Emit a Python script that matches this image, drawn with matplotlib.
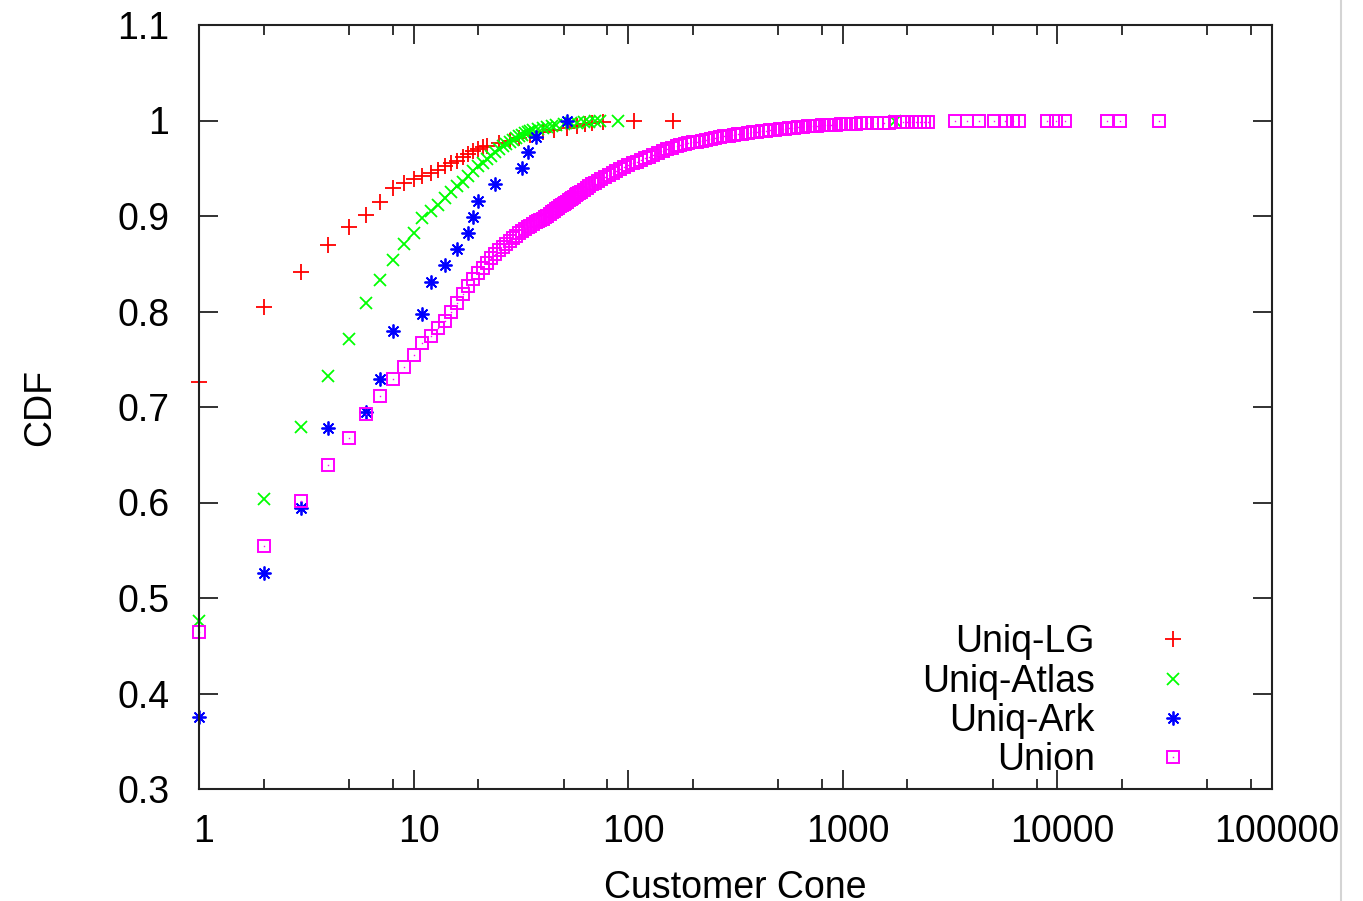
import matplotlib
matplotlib.use('Agg')
import matplotlib.pyplot as plt
from matplotlib.lines import Line2D
from matplotlib.legend_handler import HandlerTuple
import matplotlib.transforms as mtransforms

plt.rcParams['font.family'] = ['Liberation Sans', 'DejaVu Sans']

# ---------------- data ----------------
lg_x = [1, 2, 3, 4, 5, 6, 7, 8, 9, 10, 11, 12, 13, 14, 15, 16, 17, 18, 19, 20,
        21, 22, 25, 28, 31, 35, 40, 45, 52, 58, 63, 68, 76, 106, 161]
lg_y = [0.726, 0.805, 0.841, 0.870, 0.889, 0.901, 0.915, 0.929, 0.935, 0.939,
        0.942, 0.945, 0.948, 0.952, 0.956, 0.958, 0.962, 0.965, 0.968, 0.970,
        0.972, 0.973, 0.976, 0.979, 0.982, 0.985, 0.988, 0.990, 0.992, 0.994,
        0.996, 0.997, 0.998, 0.999, 1.000]

atlas_x = [1, 2, 3, 4, 5, 6, 7, 8, 9, 10, 11, 12, 13, 14, 15, 16, 17, 18, 19,
           20, 21, 22, 23, 24, 25, 26, 27, 28, 29, 30, 31, 32, 33, 34, 35, 36,
           38, 40, 42, 44, 46, 50, 54, 58, 62, 66, 70, 74, 90, 1760]
atlas_y = [0.476, 0.604, 0.679, 0.732, 0.771, 0.809, 0.833, 0.854, 0.871, 0.882,
           0.898, 0.905, 0.912, 0.919, 0.925, 0.931, 0.936, 0.942, 0.947, 0.952,
           0.956, 0.960, 0.963, 0.967, 0.970, 0.973, 0.975, 0.978, 0.980, 0.982,
           0.984, 0.985, 0.987, 0.988, 0.989, 0.990, 0.991, 0.992, 0.993, 0.994,
           0.995, 0.996, 0.997, 0.997, 0.998, 0.998, 0.999, 0.999, 0.9995, 1.000]

ark_x = [1, 2, 3, 4, 6, 7, 8, 11, 12, 14, 16, 18, 19, 20, 24, 32, 34, 37, 52]
ark_y = [0.375, 0.526, 0.594, 0.678, 0.695, 0.729, 0.780, 0.797, 0.831, 0.849,
         0.865, 0.882, 0.899, 0.916, 0.933, 0.950, 0.967, 0.983, 1.000]

union_x = [1, 2, 3, 4, 5, 6, 7, 8, 9, 10, 11, 12, 13, 14, 15, 16, 17, 18, 19,
           20, 21, 22, 23, 24, 25, 26, 27, 28, 29, 30, 31, 32, 33, 34, 35, 36, 37,
           38, 39, 40, 41, 42, 43, 44, 45, 46, 47, 48, 49, 50, 51, 52, 53, 54, 55,
           56, 57, 58, 59, 60, 62, 64, 66, 68, 70, 72, 75, 78, 81, 85, 88, 92, 96,
           100, 105, 110, 115, 120, 125, 130, 137, 145, 152, 160, 168, 175, 183,
           190, 200, 210, 220, 230, 242, 255, 267, 280, 295, 310, 325, 340, 360,
           380, 400, 420, 440, 460, 485, 510, 535, 560, 590, 620, 655, 690, 725,
           760, 800, 840, 885, 930, 980, 1030, 1090, 1150, 1220, 1300, 1370, 1450,
           1550, 1650, 1750, 1900, 2000, 2100, 2200, 2300, 2400, 2500,
           3350, 3800, 4300, 5050, 5700, 6200, 6600, 8900, 9800, 10800,
           17100, 19600, 29800]
union_y = [0.464, 0.554, 0.602, 0.639, 0.668, 0.693, 0.711, 0.729, 0.742, 0.754,
           0.767, 0.774, 0.783, 0.790, 0.799, 0.809, 0.818, 0.827, 0.834,
           0.840, 0.846, 0.851, 0.856, 0.860, 0.864, 0.868, 0.871, 0.874, 0.877,
           0.879, 0.882, 0.884, 0.886, 0.888, 0.890, 0.892, 0.894, 0.895, 0.896,
           0.897, 0.899, 0.900, 0.902, 0.904, 0.905, 0.907, 0.908, 0.910, 0.911,
           0.913, 0.914, 0.915, 0.917, 0.918, 0.919, 0.920, 0.922, 0.923, 0.924,
           0.925, 0.927, 0.929, 0.931, 0.933, 0.935, 0.937, 0.939, 0.941, 0.943,
           0.945, 0.947, 0.949, 0.951, 0.953, 0.955, 0.957, 0.959, 0.961, 0.962,
           0.964, 0.966, 0.968, 0.970, 0.971, 0.973, 0.974, 0.975, 0.976, 0.977,
           0.978, 0.979, 0.980, 0.981, 0.982, 0.983, 0.984, 0.984, 0.985, 0.986,
           0.986, 0.987, 0.988, 0.988, 0.989, 0.989, 0.990, 0.990, 0.991, 0.991,
           0.992, 0.992, 0.993, 0.993, 0.994, 0.994, 0.994, 0.995, 0.995, 0.995,
           0.995, 0.996, 0.996, 0.996, 0.996, 0.997, 0.997, 0.997, 0.997, 0.997,
           0.997, 0.998, 0.998, 0.998, 0.998, 0.998, 0.998, 0.998, 0.998,
           0.999, 0.999, 0.999, 0.999, 0.999, 0.999, 0.999, 0.9995, 0.9995, 0.9995,
           0.9997, 0.9997, 1.000]

series_labels = ['Uniq-LG', 'Uniq-Atlas', 'Uniq-Ark', 'Union']
x_major = [1, 10, 100, 1000, 10000, 100000]
x_major_labels = ['1', '10', '100', '1000', '10000', '100000']
x_minor = [m * d for d in [1, 10, 100, 1000, 10000] for m in (2, 5, 8)]
y_ticks = [0.3, 0.4, 0.5, 0.6, 0.7, 0.8, 0.9, 1.0, 1.1]
y_tick_labels = ['0.3', '0.4', '0.5', '0.6', '0.7', '0.8', '0.9', '1', '1.1']

# ---------------- figure ----------------
W, H = 1363, 901
fig = plt.figure(figsize=(W / 100, H / 100), dpi=100)
L, R, T, B = 199, 1272, 25, 789
ax = fig.add_axes([L / W, 1 - B / H, (R - L) / W, (B - T) / H])

FS = 27
RED, GREEN, BLUE, MAG = '#ff0000', '#00ff00', '#0000ff', '#ff00ff'
asterisk = (8, 2, 0)

kw = dict(linestyle='none', clip_on=False, zorder=2)
h_lg, = ax.plot(lg_x, lg_y, marker='+', color=RED, markersize=11, markeredgewidth=1.3, **kw)
h_at, = ax.plot(atlas_x, atlas_y, marker='x', color=GREEN, markersize=9, markeredgewidth=1.3, **kw)
h_ar, = ax.plot(ark_x, ark_y, marker=asterisk, color=BLUE, markersize=10, markeredgewidth=1.3, **kw)
h_un, = ax.plot(union_x, union_y, marker='s', markerfacecolor='none', markeredgecolor=MAG,
                markersize=8.5, markeredgewidth=1.4, **kw)
h_und, = ax.plot(union_x, union_y, marker='s', color=MAG, markersize=1.0,
                 markeredgewidth=0, **kw)

ax.set_xscale('log')
ax.set_xlim(1, 100000)
ax.set_ylim(0.3, 1.1)
ax.set_xticks(x_major)
ax.set_xticklabels(x_major_labels)
ax.set_xticks(x_minor, minor=True)
ax.xaxis.set_minor_formatter(matplotlib.ticker.NullFormatter())
ax.set_yticks(y_ticks)
ax.set_yticklabels(y_tick_labels)

SPC = '#222222'
for s in ax.spines.values():
    s.set_color(SPC)
    s.set_linewidth(1.5)
    s.set_zorder(3)
ax.tick_params(which='major', direction='in', length=14, width=1.3, color=SPC,
               top=True, right=True, labelsize=FS, labelcolor='black')
ax.tick_params(which='minor', direction='in', length=7, width=1.3, color=SPC,
               top=True, right=True)
ax.tick_params(axis='x', which='major', pad=18)
ax.tick_params(axis='y', which='major', pad=21.5)

off = mtransforms.ScaledTranslation(5 / 100, 0, fig.dpi_scale_trans)
for lab in ax.get_xticklabels():
    lab.set_transform(lab.get_transform() + off)

ax.set_xlabel('Customer Cone', fontsize=FS)
ax.set_ylabel('CDF', fontsize=FS)
ax.xaxis.set_label_coords(0.5, -(870 - B) / (B - T))
ax.yaxis.set_label_coords(-(L - 58) / (R - L), 0.5)

leg = ax.legend([h_lg, h_at, h_ar, (h_un, h_und)], series_labels,
                handler_map={tuple: HandlerTuple(ndivide=1, pad=0)},
                loc='lower right', bbox_to_anchor=((1210 - L) / (R - L), (B - 778.5) / (B - T)),
                frameon=False, markerfirst=False, numpoints=1, fontsize=FS,
                handlelength=2.0, handletextpad=1.07, labelspacing=0.09,
                borderpad=0, borderaxespad=0)

# light gray vertical line at the right edge of the screenshot
fig.add_artist(Line2D([1341 / W, 1341 / W], [0, 1], transform=fig.transFigure,
                      color='#d4d4d4', linewidth=1.5))

fig.savefig('out.png', dpi=100)
